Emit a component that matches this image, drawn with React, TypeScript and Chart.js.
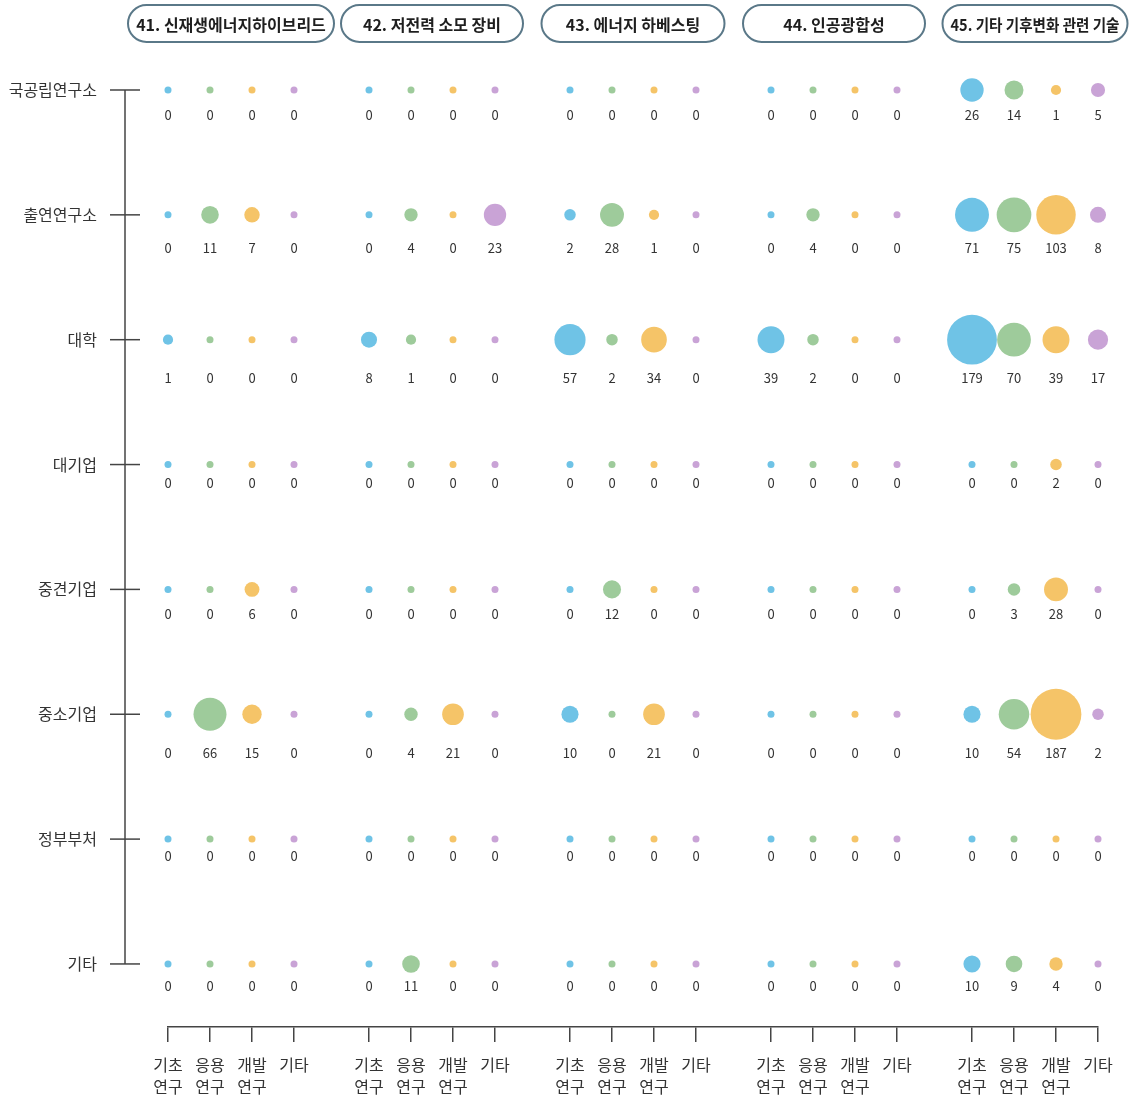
import React, { useEffect, useRef } from "react";
import { Chart, registerables } from "chart.js";

Chart.register(...registerables);

const ROW_LABELS = ["국공립연구소", "출연연구소", "대학", "대기업", "중견기업", "중소기업", "정부부처", "기타"];
const GROUP_TITLES = [
  "41. 신재생에너지하이브리드",
  "42. 저전력 소모 장비",
  "43. 에너지 하베스팅",
  "44. 인공광합성",
  "45. 기타 기후변화 관련 기술",
];
const TYPE_NAMES = ["기초연구", "응용연구", "개발연구", "기타"];
const TYPE_TICKS = [["기초", "연구"], ["응용", "연구"], ["개발", "연구"], ["기타"]];

// values per group: rows (institution) x [기초, 응용, 개발, 기타]
const g41 = [[0, 0, 0, 0], [0, 11, 7, 0], [1, 0, 0, 0], [0, 0, 0, 0], [0, 0, 6, 0], [0, 66, 15, 0], [0, 0, 0, 0], [0, 0, 0, 0]];
const g42 = [[0, 0, 0, 0], [0, 4, 0, 23], [8, 1, 0, 0], [0, 0, 0, 0], [0, 0, 0, 0], [0, 4, 21, 0], [0, 0, 0, 0], [0, 11, 0, 0]];
const g43 = [[0, 0, 0, 0], [2, 28, 1, 0], [57, 2, 34, 0], [0, 0, 0, 0], [0, 12, 0, 0], [10, 0, 21, 0], [0, 0, 0, 0], [0, 0, 0, 0]];
const g44 = [[0, 0, 0, 0], [0, 4, 0, 0], [39, 2, 0, 0], [0, 0, 0, 0], [0, 0, 0, 0], [0, 0, 0, 0], [0, 0, 0, 0], [0, 0, 0, 0]];
const g45 = [[26, 14, 1, 5], [71, 75, 103, 8], [179, 70, 39, 17], [0, 0, 2, 0], [0, 3, 28, 0], [10, 54, 187, 2], [0, 0, 0, 0], [10, 9, 4, 0]];
const GROUP_VALUES = [g41, g42, g43, g44, g45];

const COLORS = ["#6fc3e6", "#9ecb9b", "#f5c468", "#c9a3d6"];
const FONT = "'Noto Sans CJK KR', 'Noto Sans', sans-serif";
const STRIDE = 201 / 42;
const HEADER_W = [206, 182, 183, 182, 185];

const radius = (v: number) => 3.5 + 1.6 * Math.sqrt(v);

export default function App() {
  const ref = useRef<HTMLCanvasElement | null>(null);

  useEffect(() => {
    document.body.style.margin = "0";
    const canvas = ref.current;
    if (!canvas) return;

    const datasets = TYPE_NAMES.map((name, t) => {
      const data: any[] = [];
      GROUP_VALUES.forEach((gv, g) => {
        gv.forEach((row, r) => {
          data.push({ x: g * STRIDE + t, y: r, r: radius(row[t]), v: row[t] });
        });
      });
      return {
        label: name,
        data,
        backgroundColor: COLORS[t],
        borderWidth: 0,
        hoverBorderWidth: 0,
        clip: false as any,
      };
    });

    const tickPositions: number[] = [];
    GROUP_VALUES.forEach((_, g) => {
      for (let t = 0; t < 4; t++) tickPositions.push(g * STRIDE + t);
    });

    const overlay = {
      id: "overlay",
      afterDraw(chart: any) {
        const ctx = chart.ctx;
        const xs = chart.scales.x;
        const ys = chart.scales.y;
        const area = chart.chartArea;
        ctx.save();
        // y axis line + ticks
        const ax = area.left - 43;
        ctx.strokeStyle = "#444";
        ctx.lineWidth = 1.5;
        ctx.beginPath();
        ctx.moveTo(ax, ys.getPixelForValue(0));
        ctx.lineTo(ax, ys.getPixelForValue(ROW_LABELS.length - 1));
        ctx.stroke();
        ROW_LABELS.forEach((_, r) => {
          const y = ys.getPixelForValue(r);
          ctx.beginPath();
          ctx.moveTo(ax - 15, y);
          ctx.lineTo(ax + 15, y);
          ctx.stroke();
        });

        // value labels
        ctx.fillStyle = "#333";
        ctx.font = `13px ${FONT}`;
        ctx.textAlign = "center";
        ctx.textBaseline = "middle";
        ROW_LABELS.forEach((_, r) => {
          let maxR = 0;
          GROUP_VALUES.forEach((gv) => gv[r].forEach((v) => (maxR = Math.max(maxR, radius(v)))));
          const y = ys.getPixelForValue(r) + maxR + 13;
          GROUP_VALUES.forEach((gv, g) => {
            gv[r].forEach((v, t) => {
              ctx.fillText(String(v), xs.getPixelForValue(g * STRIDE + t), y);
            });
          });
        });

        // group headers
        GROUP_TITLES.forEach((title, g) => {
          const cx = (xs.getPixelForValue(g * STRIDE) + xs.getPixelForValue(g * STRIDE + 3)) / 2;
          const w = HEADER_W[g];
          const h = 37;
          const top = 5;
          const left = cx - w / 2;
          const rad = h / 2;
          ctx.beginPath();
          ctx.moveTo(left + rad, top);
          ctx.lineTo(left + w - rad, top);
          ctx.arc(left + w - rad, top + rad, rad, -Math.PI / 2, Math.PI / 2);
          ctx.lineTo(left + rad, top + h);
          ctx.arc(left + rad, top + rad, rad, Math.PI / 2, (3 * Math.PI) / 2);
          ctx.closePath();
          ctx.fillStyle = "#ffffff";
          ctx.fill();
          ctx.strokeStyle = "#5a7888";
          ctx.lineWidth = 2;
          ctx.stroke();
          ctx.fillStyle = "#1e1e1e";
          ctx.font = `bold 16px ${FONT}`;
          ctx.textAlign = "center";
          ctx.textBaseline = "middle";
          ctx.fillText(title, cx, top + h / 2 + 1, w - 16);
        });
        ctx.restore();
      },
    };

    const chart = new Chart(canvas, {
      type: "bubble",
      data: { datasets: datasets as any },
      options: {
        responsive: false,
        animation: false,
        events: [],
        layout: { autoPadding: false, padding: { top: 27.57, right: 32, left: 0, bottom: 0 } },
        plugins: { legend: { display: false }, tooltip: { enabled: false } },
        scales: {
          x: {
            type: "linear",
            min: 0,
            max: 4 * STRIDE + 3,
            afterBuildTicks: (s: any) => {
              s.ticks = tickPositions.map((v) => ({ value: v }));
            },
            afterFit: (s: any) => {
              s.height = 72;
            },
            ticks: {
              autoSkip: false,
              maxRotation: 0,
              padding: 12,
              color: "#333",
              font: { family: FONT, size: 16, lineHeight: 1.375 },
              callback: (_v: any, i: number) => TYPE_TICKS[i % 4],
            },
            grid: {
              display: true,
              drawOnChartArea: false,
              drawTicks: true,
              tickLength: 15,
              color: "#444",
              lineWidth: 1.5,
            },
            border: { display: true, color: "#444", width: 1.5 },
          },
          y: {
            type: "linear",
            reverse: true,
            min: -0.5,
            max: 7.505,
            afterBuildTicks: (s: any) => {
              s.ticks = ROW_LABELS.map((_, i) => ({ value: i }));
            },
            afterFit: (s: any) => {
              s.width = 168;
            },
            ticks: {
              autoSkip: false,
              padding: 0,
              color: "#333",
              font: { family: FONT, size: 16 },
              callback: (_v: any, i: number) => ROW_LABELS[i],
            },
            grid: {
              display: true,
              drawOnChartArea: false,
              drawTicks: true,
              tickLength: 71,
              color: "rgba(0,0,0,0)",
            },
            border: { display: false },
          },
        },
      },
      plugins: [overlay],
    });

    return () => chart.destroy();
  }, []);

  return (
    <div style={{ width: 1130, height: 1099, background: "#fff" }}>
      <canvas ref={ref} width={1130} height={1099} />
    </div>
  );
}
